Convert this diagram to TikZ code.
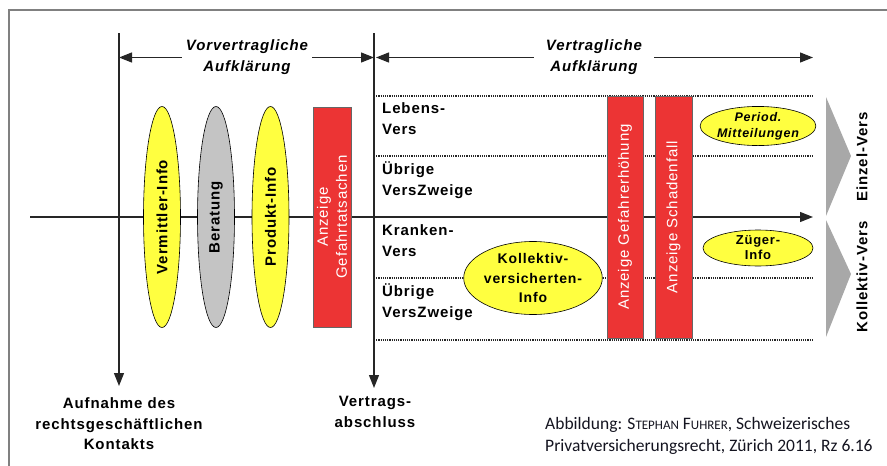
\documentclass[tikz,border=0pt]{standalone}
\usepackage{fontspec}
\setmainfont{Liberation Sans}[LetterSpace=6]
\newfontfamily\capfont{Carlito}
\usetikzlibrary{arrows.meta,shapes.geometric}
\definecolor{boxred}{RGB}{236,52,52}
\definecolor{infoyellow}{RGB}{255,255,64}
\definecolor{infogray}{RGB}{196,196,196}
\definecolor{framegray}{RGB}{128,128,128}
\definecolor{wedgegray}{RGB}{168,168,168}
\definecolor{captext}{RGB}{20,20,32}
% fake small caps: first letter full size, rest reduced
\newcommand\fsc[2]{#1{\fontsize{13}{13}\selectfont #2}}

\begin{document}
\begin{tikzpicture}[x=1pt,y=-1pt,
  axis/.style={line width=1.3pt, draw=black!85},
  arrowed/.style={-{Triangle[length=13pt,width=10pt]}},
  framel/.style={line width=2.5pt, draw=framegray},
  sepline/.style={densely dotted, line width=1.2pt, draw=black!85},
  info/.style={ellipse, draw=black, line width=0.6pt, fill=infoyellow, inner sep=0pt,
    align=center, font=\bfseries\fontsize{15}{18}\selectfont},
  vinfo/.style={info, rotate=90, minimum width=221pt, minimum height=37pt},
  redbar/.style={rectangle, rotate=90, draw=black!60, line width=0.5pt, fill=boxred,
    text=white, inner sep=0pt, align=center, font=\fontsize{15}{19}\selectfont},
  phase/.style={font=\bfseries\itshape\fontsize{15}{21}\selectfont, align=center, inner ysep=0pt},
  rowlbl/.style={font=\bfseries\fontsize{15}{21}\selectfont, align=left, anchor=west, inner sep=0pt},
  event/.style={font=\bfseries\fontsize{15}{20.5}\selectfont, align=center, inner sep=0pt},
  kind/.style={font=\bfseries\fontsize{15}{18}\selectfont, rotate=90, inner sep=0pt}
]
\useasboundingbox (0,0) rectangle (887,466);

% page frame
\draw[framel] (887,10) -- (9,10) -- (9,466);

% reference points of the time lines
\coordinate (kTop) at (119,33);
\coordinate (kBot) at (119,386);
\coordinate (vTop) at (374,33);
\coordinate (vBot) at (374,388);
\coordinate (axL) at (30,217);
\coordinate (axR) at (813,217);

% branch separators
\foreach \yy in {96,156,278,340}
  \draw[sepline] (374,\yy) -- (813,\yy);

% main time axis and milestones
\draw[axis, arrowed] (axL) -- (axR);
\draw[axis, arrowed] (kTop) -- (kBot);
\draw[axis, arrowed] (vTop) -- (vBot);

% phase labels with their spans
\node[phase, inner xsep=4pt] (pre) at (247,57.5) {Vorvertragliche\\Aufklärung};
\node[phase, inner xsep=12pt] (post) at (594,57.5) {Vertragliche\\Aufklärung};
\draw[axis, arrowed] (pre.west) -- (kTop |- pre.west);
\draw[axis, arrowed] (pre.east) -- (vTop |- pre.east);
\draw[axis, arrowed, shorten >=2pt] (post.west) -- (vTop |- post.west);
\draw[axis, arrowed] (post.east) -- (axR |- post.east);

% pre-contractual information
\node[vinfo] (vermittler) at (162,217) {Vermittler-Info};
\node[vinfo, fill=infogray] (beratung) at (216,217) {Beratung};
\node[vinfo] (produkt) at (270.5,217) {Produkt-Info};
\node[redbar, minimum width=220pt, minimum height=38pt] (gefahrtat) at (332,217) {Anzeige\\Gefahrtatsachen};

% contractual phase
\node[redbar, minimum width=242pt, minimum height=36pt] (erhoehung) at (625,217) {Anzeige Gefahrerhöhung};
\node[redbar, minimum width=242pt, minimum height=37pt] (schaden) at (673.5,217) {Anzeige Schadenfall};

\node[rowlbl] (leben) at (382,118.5) {Lebens-\\Vers};
\node[rowlbl] (uebrigeA) at (382,180.5) {Übrige\\VersZweige};
\node[rowlbl] (kranken) at (382,240.5) {Kranken-\\Vers};
\node[rowlbl] (uebrigeB) at (382,302.5) {Übrige\\VersZweige};

\node[info, minimum width=123pt, minimum height=73pt, font=\bfseries\fontsize{14}{19.5}\selectfont] (kollektiv) at (533,278) {Kollektiv-\\versicherten-\\Info};
\node[info, minimum width=110pt, minimum height=38pt, font=\bfseries\itshape\fontsize{12.5}{16}\selectfont] (period) at (758,126) {Period.\\Mitteilungen};
\node[info, minimum width=110pt, minimum height=36pt, font=\bfseries\fontsize{13}{15}\selectfont] (zueger) at (758,248) {Züger-\\Info};

% contract type wedges
\fill[wedgegray] (826,97) -- (851,156) -- (826,216) -- cycle;
\fill[wedgegray] (826,220) -- (851,274) -- (826,337) -- cycle;
\node[kind] (einzel) at (862,157) {Einzel-Vers};
\node[kind] (kollvers) at (862,277) {Kollektiv-Vers};

% milestones
\node[event] (kontakt) at (119,424) {Aufnahme des\\rechtsgeschäftlichen\\Kontakts};
\node[event] (abschluss) at (375,412) {Vertrags-\\abschluss};

% source
\node[anchor=west, align=left, inner sep=0pt, text=captext,
  font=\capfont\fontsize{17.5}{22}\selectfont] (quelle) at (545,436)
  {Abbildung: \fsc{S}{TEPHAN} \fsc{F}{UHRER}, Schweizerisches\\Privatversicherungsrecht, Zürich 2011, Rz 6.16};
\end{tikzpicture}
\end{document}
